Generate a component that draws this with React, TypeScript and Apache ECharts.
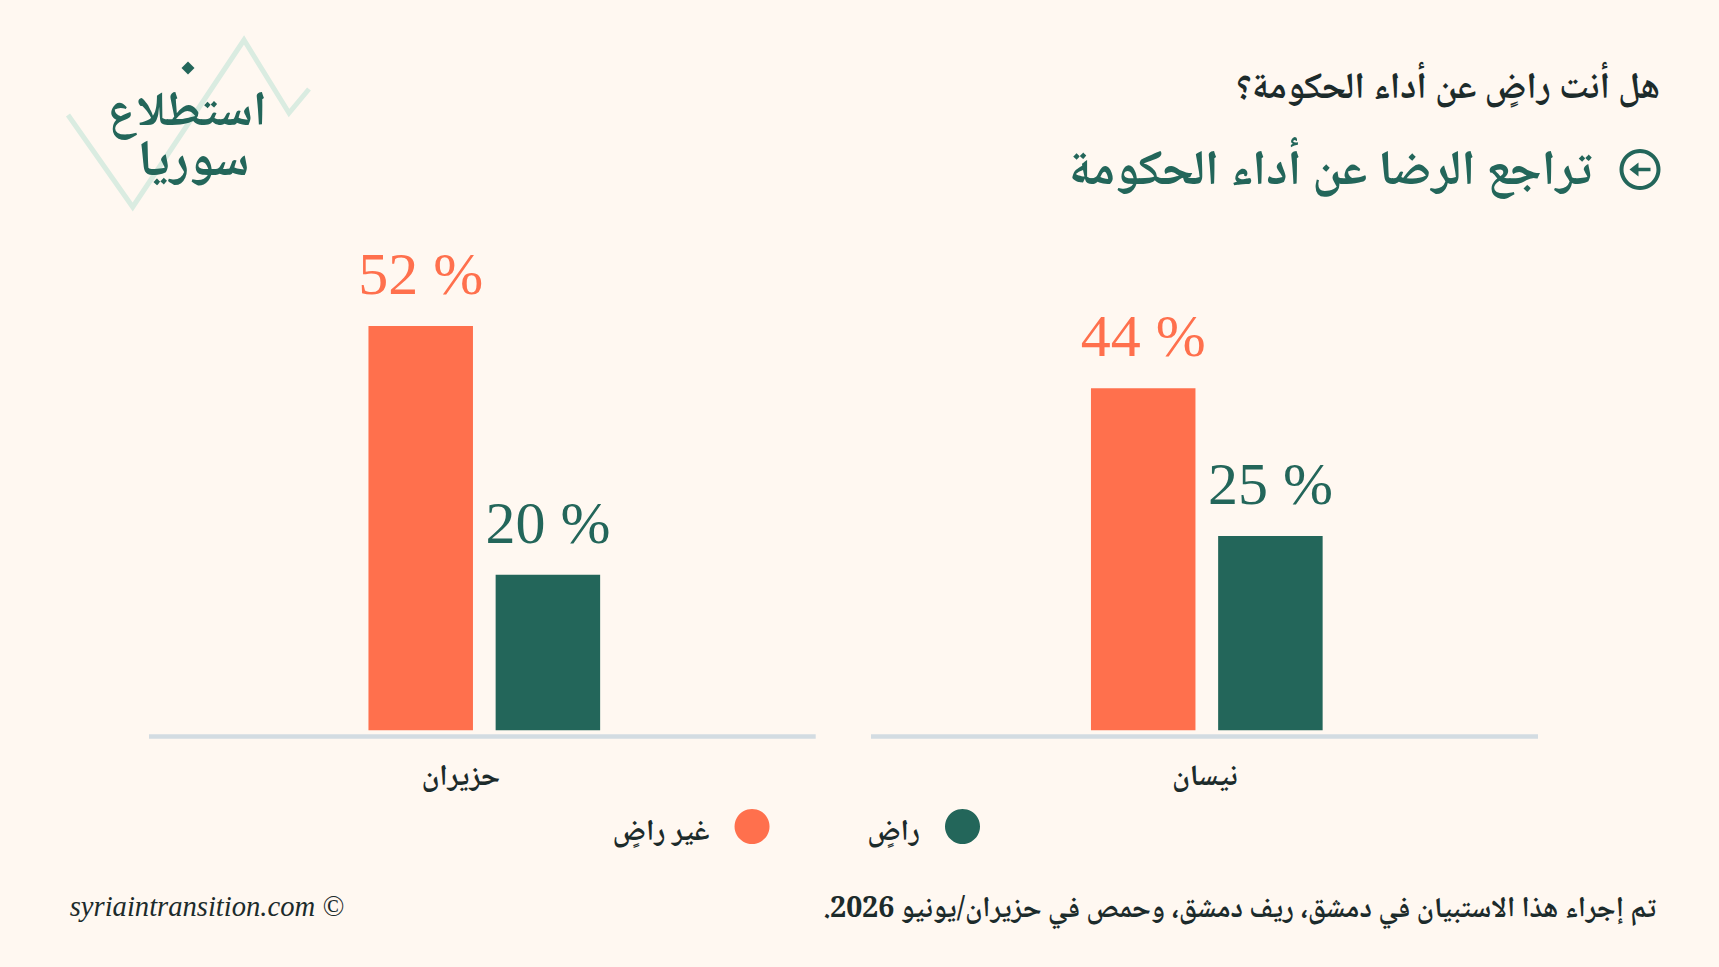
import React, { useEffect, useRef } from "react";
import * as echarts from "echarts";

const months = ["حزيران", "نيسان"];
const dissatisfied = [52, 44];
const satisfied = [20, 25];
const seriesNames = ["غير راضٍ", "راضٍ"];
const questionText = "هل أنت راضٍ عن أداء الحكومة؟";
const headlineText = "تراجع الرضا عن أداء الحكومة";
const logoLines = ["استطلاع", "سوريا"];
const noteText = "\u200Fتم إجراء هذا الاستبيان في دمشق، ريف دمشق، وحمص في حزيران/يونيو 2026.\u200F";
const creditText = "syriaintransition.com ©";

const BG = "#FFF8F1";
const ORANGE = "#FF704D";
const GREEN = "#23665A";
const INK = "#1C2B2B";
const RULE = "#D3DCE2";
const ARABIC = '"Noto Naskh Arabic","Noto Sans Arabic","Amiri","DejaVu Sans",sans-serif';
const SERIF = '"Liberation Serif","DejaVu Serif",serif';

const panels = [
  { left: 151.3, ruleX1: 149, ruleX2: 815.7, labelPad: 47 },
  { left: 873.8, ruleX1: 871, ruleX2: 1538, labelPad: 4 },
];

export default function App() {
  const ref = useRef<HTMLDivElement>(null);
  useEffect(() => {
    document.body.style.margin = "0";
    document.body.style.background = BG;
    const chart = echarts.init(ref.current!, undefined, { renderer: "svg" });
    const barSeries = (name: string, values: number[], color: string, idx: number) => ({
      type: "bar",
      name,
      xAxisIndex: idx,
      yAxisIndex: idx,
      data: [values[idx]],
      barWidth: 104.5,
      barGap: "21.7%",
      itemStyle: { color },
      label: {
        show: true,
        position: "top",
        distance: 22,
        formatter: "{c} %",
        color,
        fontFamily: SERIF,
        fontSize: 60,
      },
    });
    chart.setOption({
      animation: false,
      backgroundColor: BG,
      grid: panels.map((p) => ({ left: p.left, width: 666, top: 263.8, height: 466.5 })),
      xAxis: panels.map((p, i) => ({
        type: "category",
        gridIndex: i,
        data: [months[i]],
        axisLine: { show: false },
        axisTick: { show: false },
        axisLabel: {
          margin: 33,
          padding: [0, p.labelPad, 0, 0],
          color: INK,
          fontFamily: ARABIC,
          fontWeight: "bold",
          fontSize: 29.5,
        },
      })),
      yAxis: panels.map((_, i) => ({ type: "value", gridIndex: i, min: 0, max: 60, show: false })),
      legend: {
        right: 739,
        top: 809,
        padding: 0,
        data: seriesNames,
        icon: "circle",
        itemWidth: 35,
        itemHeight: 35,
        itemGap: 97.6,
        align: "right",
        selectedMode: false,
        formatter: (name: string) => `{t|${name}}`,
        textStyle: {
          rich: {
            t: {
              color: INK,
              fontFamily: ARABIC,
              fontWeight: "bold",
              fontSize: 29.5,
              padding: [13, 20, 0, 0],
            },
          },
        },
      },
      series: panels.flatMap((_, i) => [
        barSeries(seriesNames[0], dissatisfied, ORANGE, i),
        barSeries(seriesNames[1], satisfied, GREEN, i),
      ]),
      graphic: [
        ...panels.map((p) => ({
          type: "line",
          shape: { x1: p.ruleX1, y1: 736.6, x2: p.ruleX2, y2: 736.6 },
          style: { stroke: RULE, lineWidth: 4.5 },
        })),
        {
          type: "polyline",
          shape: { points: [[68, 115], [132.7, 207], [244, 40], [289, 113], [309, 89]] },
          style: { stroke: "#DAECE1", lineWidth: 5, fill: "none" },
          z: -1,
        },
        {
          type: "polygon",
          shape: { points: [[188, 61.5], [194.5, 68], [188, 74.5], [181.5, 68]] },
          style: { fill: GREEN },
        },
        {
          type: "text", x: 187, y: 114,
          style: { text: logoLines[0], fill: GREEN, font: `bold 48.5px ${ARABIC}`, lineHeight: 44, textAlign: "center", textVerticalAlign: "middle" },
        },
        {
          type: "text", x: 193.5, y: 163,
          style: { text: logoLines[1], fill: GREEN, font: `bold 51px ${ARABIC}`, lineHeight: 44, textAlign: "center", textVerticalAlign: "middle" },
        },
        {
          type: "text", x: 1660, y: 89,
          style: { text: questionText, fill: INK, font: `bold 37px ${ARABIC}`, textAlign: "right", textVerticalAlign: "middle" },
        },
        {
          type: "text", x: 1592, y: 173,
          style: { text: headlineText, fill: GREEN, font: `bold 49.2px ${ARABIC}`, textAlign: "right", textVerticalAlign: "middle" },
        },
        {
          type: "ring",
          shape: { cx: 1640, cy: 169.5, r: 20.5, r0: 16.5 },
          style: { fill: GREEN },
        },
        {
          type: "polygon",
          shape: { points: [[1629.5, 169.5], [1638.5, 162.5], [1638.5, 176.5]] },
          style: { fill: GREEN },
        },
        {
          type: "line",
          shape: { x1: 1637.5, y1: 169.5, x2: 1650.5, y2: 169.5 },
          style: { stroke: GREEN, lineWidth: 3.5 },
        },
        {
          type: "text", x: 69.7, y: 906,
          style: { text: creditText, fill: INK, font: `italic 28.6px ${SERIF}`, textAlign: "left", textVerticalAlign: "middle" },
        },
        {
          type: "text", x: 1656, y: 910,
          style: { text: noteText, fill: INK, font: `bold 28.7px ${ARABIC}`, textAlign: "right", textVerticalAlign: "middle" },
        },
      ],
    });
    return () => chart.dispose();
  }, []);
  return <div ref={ref} style={{ width: 1719, height: 967 }} />;
}
